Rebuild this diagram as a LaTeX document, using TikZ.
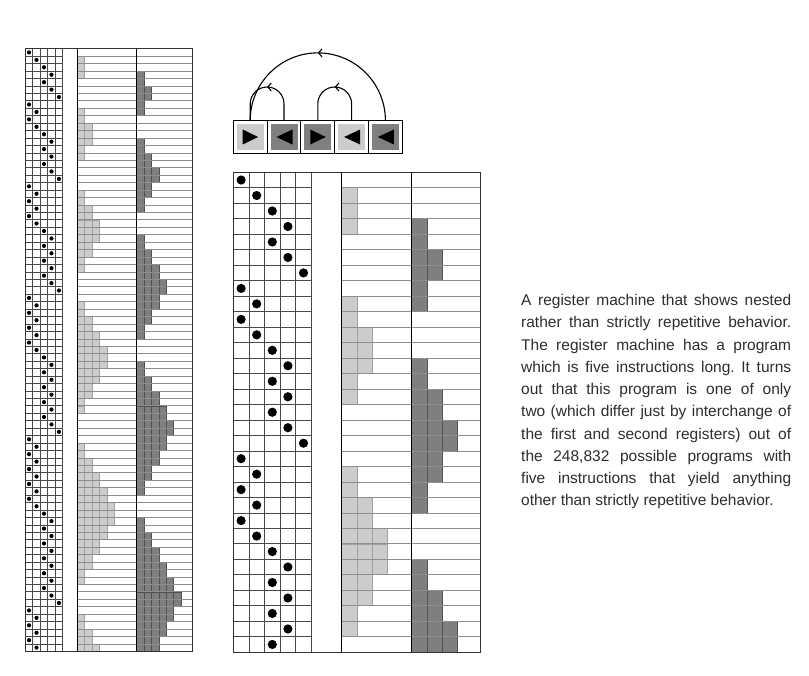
\documentclass[tikz,border=0pt]{standalone}
\usepackage{fontspec}
\setmainfont{Liberation Sans}
\usetikzlibrary{arrows.meta,decorations.markings}
\frenchspacing
\definecolor{lightreg}{HTML}{CCCCCC}
\definecolor{lightedge}{HTML}{A0A0A0}
\definecolor{darkreg}{HTML}{7F7F7F}
\definecolor{darkedge}{HTML}{505050}
\definecolor{gridc}{HTML}{4A4A4A}
\definecolor{rowc}{HTML}{8E8E8E}
\definecolor{txtc}{HTML}{2E2E2E}

\def\statelist{1/0/0,2/1/0,3/1/0,4/1/1,3/0/1,4/0/2,5/0/2,1/0/1,2/1/1,1/1/0,2/2/0,3/2/0,4/2/1,3/1/1,4/1/2,3/0/2,4/0/3,5/0/3,1/0/2,2/1/2,1/1/1,2/2/1,1/2/0,2/3/0,3/3/0,4/3/1,3/2/1,4/2/2,3/1/2,4/1/3,3/0/3,4/0/4,5/0/4,1/0/3,2/1/3,1/1/2,2/2/2,1/2/1,2/3/1,1/3/0,2/4/0,3/4/0,4/4/1,3/3/1,4/3/2,3/2/2,4/2/3,3/1/3,4/1/4,3/0/4,4/0/5,5/0/5,1/0/4,2/1/4,1/1/3,2/2/3,1/2/2,2/3/2,1/3/1,2/4/1,1/4/0,2/5/0,3/5/0,4/5/1,3/4/1,4/4/2,3/3/2,4/3/3,3/2/3,4/2/4,3/1/4,4/1/5,3/0/5,4/0/6,5/0/6,1/0/5,2/1/5,1/1/4,2/2/4,1/2/3,2/3/3}

% draws one run of the register machine; parameters set with \def before use
\newcommand{\regrun}{%
  \foreach \p/\a/\b [count=\i] in \statelist {%
    \ifnum\i>\gn\relax\else
      \ifnum\a>0\relax
        \foreach \k in {1,...,\a}{\filldraw[lightcell] ({\gl+(\k-1)*\gbw},{\gy+(\i-1)*\gh}) rectangle ++(\gbw,\gh);}%
      \fi
      \ifnum\b>0\relax
        \foreach \k in {1,...,\b}{\filldraw[darkcell] ({\gd+(\k-1)*\gbw},{\gy+(\i-1)*\gh}) rectangle ++(\gbw,\gh);}%
      \fi
    \fi
  }%
  \pgfmathtruncatemacro{\gnm}{\gn-1}%
  \foreach \j in {1,...,\gnm}{%
    \draw[gridline] (\gx,{\gy+\j*\gh}) -- ({\gx+5*\gw},{\gy+\j*\gh});
    \draw[rowline] (\gl,{\gy+\j*\gh}) -- (\gr,{\gy+\j*\gh});
  }%
  \foreach \c in {1,...,5}{%
    \draw[gridline] ({\gx+\c*\gw},\gy) -- ({\gx+\c*\gw},{\gy+\gn*\gh});
  }%
  \draw[sepline] (\gl,\gy) -- (\gl,{\gy+\gn*\gh});
  \draw[sepline] (\gd,\gy) -- (\gd,{\gy+\gn*\gh});
  \draw[borderline] (\gx,\gy) rectangle (\gr,{\gy+\gn*\gh});
  \foreach \p/\a/\b [count=\i] in \statelist {%
    \ifnum\i>\gn\relax\else
      \fill ({\gx+(\p-0.5)*\gw},{\gy+(\i-0.5)*\gh}) circle[radius=\gdot];
    \fi
  }%
}

\newcommand{\rtri}[1]{\fill ([xshift=-7.5pt,yshift=7.5pt]#1.center) -- ([xshift=-7.5pt,yshift=-7.5pt]#1.center) -- ([xshift=8pt]#1.center) -- cycle;}
\newcommand{\ltri}[1]{\fill ([xshift=8.5pt,yshift=7.5pt]#1.center) -- ([xshift=8.5pt,yshift=-7.5pt]#1.center) -- ([xshift=-7.5pt]#1.center) -- cycle;}
\newcommand{\cellfill}[2]{\fill[#2] ([shift={(3.4pt,3.4pt)}]#1.south west) rectangle ([shift={(-3.4pt,-3.4pt)}]#1.north east);}

\begin{document}
\begin{tikzpicture}[x=1pt,y=-1pt,
  lightcell/.style={fill=lightreg,draw=lightedge,line width=0.6pt},
  darkcell/.style={fill=darkreg,draw=darkedge,line width=0.6pt},
  gridline/.style={draw=gridc,line width=0.7pt},
  rowline/.style={draw=rowc,line width=0.7pt},
  sepline/.style={draw=black,line width=1.4pt},
  borderline/.style={draw=black!80,line width=0.9pt},
  pcell/.style={draw=black,line width=0.9pt,minimum width=33.8pt,minimum height=33pt,inner sep=0pt,outer sep=0pt},
  jump/.style={line width=1.1pt,postaction={decorate},
    decoration={markings,mark=at position 0.5 with {\arrow{Straight Barb[length=3.5pt,width=8pt]}}}},
  txt/.style={inner sep=0pt,anchor=base west,text=txtc,font=\fontsize{15.5}{18}\selectfont}]
\useasboundingbox[fill=white] (0,0) rectangle (809,676);

% ---- left: long run ----
\def\gx{25.3}\def\gy{48.7}\def\gw{7.48}\def\gh{7.44}
\def\gl{77.3}\def\gd{136.7}\def\gr{192.7}\def\gn{81}
\def\gdot{2.1pt}\def\gbw{7.4}
\regrun

% ---- middle: short run ----
\def\gx{233.3}\def\gy{172.3}\def\gw{15.6}\def\gh{15.48}
\def\gl{341.7}\def\gd{411.7}\def\gr{480.7}\def\gn{31}
\def\gdot{4.6pt}\def\gbw{15.3}
\regrun

% ---- program ----
\node[pcell] (p1) at (250.2,137) {};
\node[pcell] (p2) at (284.0,137) {};
\node[pcell] (p3) at (317.8,137) {};
\node[pcell] (p4) at (351.6,137) {};
\node[pcell] (p5) at (385.4,137) {};
\cellfill{p1}{lightreg}
\cellfill{p2}{darkreg}
\cellfill{p3}{darkreg}
\cellfill{p4}{lightreg}
\cellfill{p5}{darkreg}
\rtri{p1}\ltri{p2}\rtri{p3}\ltri{p4}\ltri{p5}
\draw[jump] (p2.north) -- ++(0,-16.6) arc[start angle=0,end angle=180,radius=16.9pt] -- (p1.north);
\draw[jump] (p4.north) -- ++(0,-16.6) arc[start angle=0,end angle=180,radius=16.9pt] -- (p3.north);
\draw[jump] (p5.north) arc[start angle=0,end angle=180,radius=67.6pt] -- (p1.north);

% ---- caption ----
\node[txt] (t1) at (521,305.7) {\makebox[270pt][s]{A register machine that shows nested}};
\node[txt] (t2) at (521,327.95) {\makebox[270pt][s]{rather than strictly repetitive behavior.}};
\node[txt] (t3) at (521,350.2) {\makebox[270pt][s]{The register machine has a program}};
\node[txt] (t4) at (521,372.45) {\makebox[270pt][s]{which is five instructions long. It turns}};
\node[txt] (t5) at (521,394.7) {\makebox[270pt][s]{out that this program is one of only}};
\node[txt] (t6) at (521,416.95) {\makebox[270pt][s]{two (which differ just by interchange of}};
\node[txt] (t7) at (521,439.2) {\makebox[270pt][s]{the first and second registers) out of}};
\node[txt] (t8) at (521,461.45) {\makebox[270pt][s]{the 248,832 possible programs with}};
\node[txt] (t9) at (521,483.7) {\makebox[270pt][s]{five instructions that yield anything}};
\node[txt] (t10) at (521,505.95) {other than strictly repetitive behavior.};
\end{tikzpicture}
\end{document}
